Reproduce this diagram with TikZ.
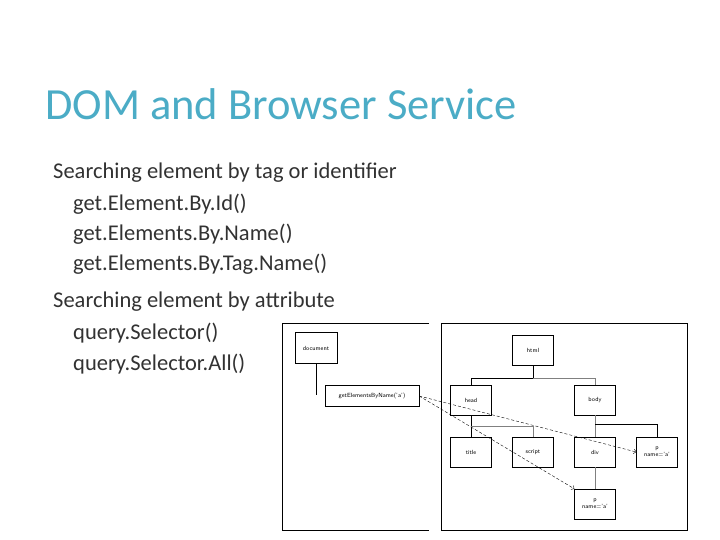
\documentclass[tikz,border=0pt]{standalone}
\usepackage{fontspec}
\setmainfont{Carlito}
\usetikzlibrary{calc, arrows.meta}
\definecolor{titleteal}{RGB}{75,172,198}
\definecolor{bodygray}{RGB}{50,50,50}

\begin{document}
\begin{tikzpicture}[
  x = 1pt, y = -1pt,
  every node/.style = {inner sep = 0pt},
  box/.style = {draw, thin, font = \fontsize{6}{7}\selectfont\sffamily, align = center},
  item/.style = {anchor = west, text = bodygray, font = \fontsize{22.5}{26}\selectfont}
]
\useasboundingbox (0,0) rectangle (720,540);
\node[anchor = west, text = titleteal, font = \fontsize{44.5}{52}\selectfont] (title) at (45,104) {DOM and Browser Service};
\node[item] (s1) at (53,173) {Searching element by tag or identifier};
\node[item] (s2) at (73,204) {get.Element.By.Id()};
\node[item] (s3) at (73,234) {get.Elements.By.Name()};
\node[item] (s4) at (73,264) {get.Elements.By.Tag.Name()};
\node[item] (s5) at (53,302) {Searching element by attribute};
\node[item] (s6) at (73,333) {query.Selector()};
\node[item] (s7) at (73,364) {query.Selector.All()};

% panels
\draw (429,323) -- (282,323) -- (282,530) -- (429,530);
\draw (441,323) rectangle (687,530);

% left side
\node[box, minimum width = 42pt, minimum height = 31pt] (doc) at (316,348) {document};
\node[box, minimum width = 94pt, minimum height = 21pt] (byname) at (372,396) {getElementsByName('a')};
\draw (doc.south) -- (316,395);

% tree
\tikzset{tnode/.style = {box, minimum width = 41pt, minimum height = 30pt}}
\node[tnode] (html) at (533,350) {html};
\node[tnode] (head) at (471,400) {head};
\node[tnode] (body) at (595,400) {body};
\node[tnode] (ttl) at (471,452) {title};
\node[tnode] (script) at (533,452) {script};
\node[tnode] (div) at (595,452) {div};
\node[tnode] (pa) at (657,452) {p\\name='a'};
\node[tnode] (pb) at (595,504) {p\\name='a'};

\draw (html.south) -- ++(0,13) -| (head.north);
\draw[gray] (html.south) ++(0,13) -| (body.north);
\draw (head.south) -- (ttl.north);
\draw[gray] (head.south) ++(0,11) -| (script.north);
\draw[gray] (body.south) -- (div.north);
\draw (body.south) ++(0,9) -| (pa.north);
\draw[gray] (div.south) -- (pb.north);

\draw[densely dashed, -{Straight Barb[open]}] (byname.east) -- (pa.west);
\draw[densely dashed, -{Straight Barb[open]}] (byname.east) -- (pb.north west);
\end{tikzpicture}
\end{document}
